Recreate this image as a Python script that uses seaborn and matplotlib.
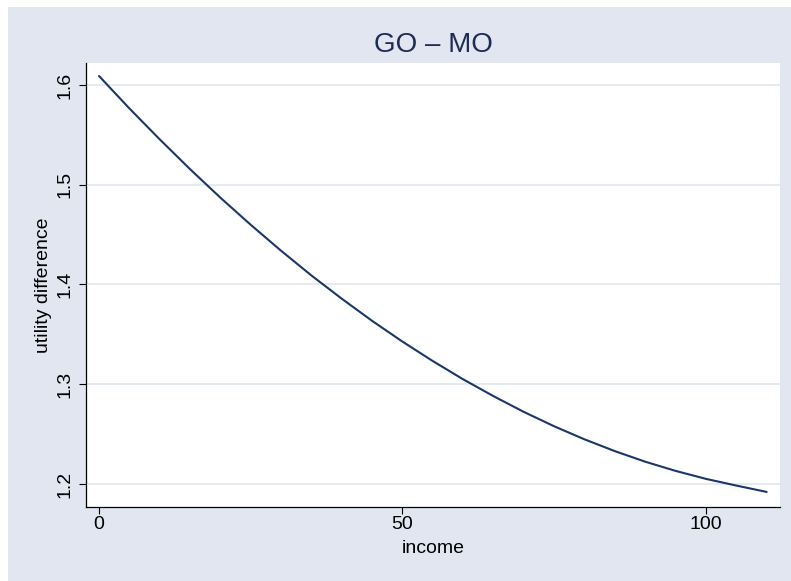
import numpy as np
import pandas as pd
import matplotlib
matplotlib.use("Agg")
import matplotlib.pyplot as plt
import seaborn as sns
from matplotlib.patches import Rectangle

# values
income = [0, 5, 10, 15, 20, 25, 30, 35, 40, 45, 50, 55,
          60, 65, 70, 75, 80, 85, 90, 95, 100, 105, 110]
utility_diff = [1.6090, 1.5765, 1.5455, 1.5156, 1.4870, 1.4598, 1.4338,
                1.4090, 1.3857, 1.3635, 1.3427, 1.3232, 1.3049, 1.2880,
                1.2722, 1.2578, 1.2447, 1.2329, 1.2223, 1.2131, 1.2051,
                1.1984, 1.1920]
x_ticks = [0, 50, 100]
y_ticks = [1.2, 1.3, 1.4, 1.5, 1.6]

df = pd.DataFrame({"income": income, "utility difference": utility_diff})

sns.set_style("white")
plt.rcParams['font.family'] = ['Liberation Sans', 'DejaVu Sans']

bg = '#e2e6f0'
fig = plt.figure(figsize=(7.91, 5.81), dpi=100, facecolor='white')
# graph region (white strip on top and left, as in the reference)
fig.patches.append(Rectangle((8 / 791, 0), 1 - 8 / 791, 1 - 7 / 581,
                             transform=fig.transFigure, facecolor=bg,
                             edgecolor='none', zorder=-10))
ax = fig.add_axes([86 / 791, 1 - 506.7 / 581, (780 - 86) / 791, (506.7 - 63) / 581])
ax.set_facecolor('white')

sns.lineplot(data=df, x="income", y="utility difference", ax=ax,
             color='#1b3668', linewidth=1.5, solid_joinstyle='round')

ax.set_xlim(-2.14, 112.2)
ax.set_ylim(1.1772, 1.622)
ax.set_xticks(x_ticks)
ax.set_yticks(y_ticks)
ax.set_yticklabels([f"{v:.1f}" for v in y_ticks])
ax.yaxis.grid(True, color=bg, linewidth=1.2)
ax.xaxis.grid(False)
ax.set_axisbelow(True)

for s in ['top', 'right']:
    ax.spines[s].set_visible(False)
for s in ['left', 'bottom']:
    ax.spines[s].set_color('black')
    ax.spines[s].set_linewidth(0.9)

ax.tick_params(axis='both', direction='out', length=5, width=0.8,
               color='black', labelsize=14, labelcolor='black',
               bottom=True, left=True)
ax.tick_params(axis='x', pad=2)
ax.tick_params(axis='y', pad=4)
for lab in ax.get_yticklabels():
    lab.set_rotation(90)
    lab.set_va('center')

ax.set_xlabel('income', fontsize=14, color='black', labelpad=5)
ax.set_ylabel('utility difference', fontsize=14, color='black', labelpad=3)
ax.set_title('GO \u2013 MO', fontsize=20, color='#1e2c55', pad=8)

fig.savefig('out.png', dpi=100, facecolor=fig.get_facecolor())
